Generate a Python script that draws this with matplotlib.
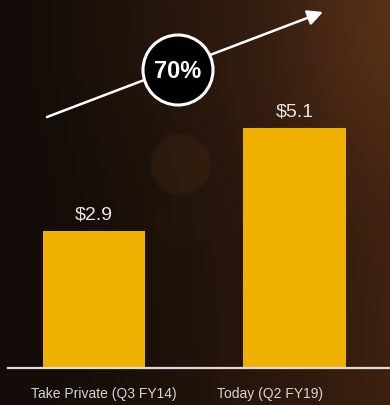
import numpy as np
import matplotlib
matplotlib.use("Agg")
import matplotlib.pyplot as plt
from matplotlib.patches import Circle, FancyArrowPatch

plt.rcParams['font.family'] = ['Liberation Sans', 'DejaVu Sans']

# Revenue run-rate ($B)
categories = ["Take Private (Q3 FY14)", "Today (Q2 FY19)"]
values = [2.9, 5.1]
value_labels = ["$2.9", "$5.1"]
growth_label = "70%"

W, H = 390, 406
fig = plt.figure(figsize=(W / 100, H / 100), dpi=100)

# --- warm dark backdrop -------------------------------------------------
bg = fig.add_axes([0, 0, 1, 1])
bg.set_axis_off()
yy, xx = np.mgrid[0:H, 0:W].astype(float)
left = np.array([0x13, 0x0c, 0x08]) / 255
right = np.array([0x3e, 0x21, 0x10]) / 255
t = np.clip(xx / W, 0, 1) ** 1.6
img = left[None, None, :] * (1 - t[..., None]) + right[None, None, :] * t[..., None]

def glow(cx, cy, r, color, strength):
    d = np.sqrt((xx - cx) ** 2 + (yy - cy) ** 2)
    w = np.exp(-(d / r) ** 2) * strength
    return w[..., None] * (np.array(color)[None, None, :] - img)

img += glow(400, 10, 150, [0x66 / 255, 0x38 / 255, 0x1c / 255], 0.7)
img += glow(210, 20, 120, [0x2c / 255, 0x1a / 255, 0x0f / 255], 0.5)

def bokeh(cx, cy, r, color, alpha):
    d = np.sqrt((xx - cx) ** 2 + (yy - cy) ** 2)
    w = np.clip((r - d) / 4.0 + 0.5, 0, 1) * alpha
    return w[..., None] * (np.array(color)[None, None, :] - img)

img += bokeh(180, 165, 30, [0x42 / 255, 0x2b / 255, 0x12 / 255], 0.35)
img += bokeh(182, 222, 28, [0x2e / 255, 0x1d / 255, 0x0f / 255], 0.15)
img = np.clip(img, 0, 1)
bg.imshow(img, extent=[0, W, H, 0], aspect='auto', interpolation='bilinear')
bg.set_xlim(0, W)
bg.set_ylim(H, 0)

# --- bar chart ----------------------------------------------------------
ax = fig.add_axes([8 / W, 37.5 / H, (W - 8) / W, 1 - 37.5 / H])
ax.patch.set_alpha(0)
x = np.arange(len(values))
bars = ax.bar(x, values, width=0.51, color="#f0b000", edgecolor="none", zorder=2)
ax.set_xlim(-0.429, 1.476)
ax.set_ylim(0, (H - 37.5) / 47.0)

for b, lab in zip(bars, value_labels):
    ax.annotate(lab, (b.get_x() + b.get_width() / 2, b.get_height()),
                xytext=(0, 6), textcoords="offset points",
                ha="center", va="bottom", fontsize=14, color="#e6e6e6")

ax.set_xticks([0.05, 0.878])
ax.set_xticklabels(categories, fontsize=10, color="#d4d4d4")
ax.tick_params(axis="x", length=0, pad=13)
ax.set_yticks([])
for s in ["top", "right", "left"]:
    ax.spines[s].set_visible(False)
ax.spines["bottom"].set_color("#dcdcdc")
ax.spines["bottom"].set_linewidth(1.6)

# --- growth arrow with badge -------------------------------------------
ov = fig.add_axes([0, 0, 1, 1])
ov.set_axis_off()
ov.patch.set_alpha(0)
ov.set_xlim(0, W)
ov.set_ylim(H, 0)
arrow = FancyArrowPatch((47, 118), (323, 13), arrowstyle="-|>,head_length=7,head_width=3.5",
                        color="white", lw=1.8, mutation_scale=1.3, shrinkA=0, shrinkB=0)
ov.add_patch(arrow)
ov.add_patch(Circle((178, 71), 35, facecolor="black", edgecolor="white", lw=2.2, zorder=3))
ov.text(178, 72, growth_label, ha="center", va="center", fontsize=17,
        fontweight="bold", color="white", zorder=4)

fig.savefig("out.png", dpi=100)
